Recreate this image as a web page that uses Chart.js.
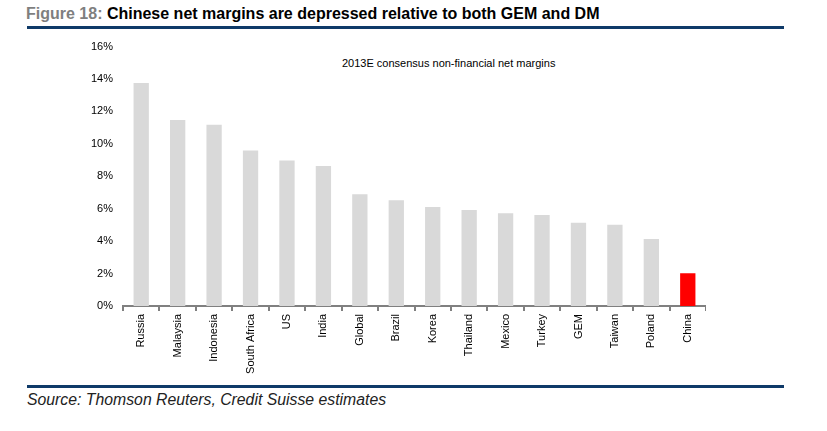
<!DOCTYPE html>
<html lang="en">
<head>
  <meta charset="UTF-8">
  <title>Chinese net margins</title>
  <script src="https://cdn.jsdelivr.net/npm/chart.js"></script>
  <style>
    body { margin: 0; width: 827px; height: 431px; background: #fff; position: relative; overflow: hidden; font-family: "Liberation Sans", Arial, sans-serif; }
    #title { position: absolute; left: 26px; top: 5px; font-size: 16px; font-weight: bold; color: #000; white-space: nowrap; }
    #title span { color: #7f7f7f; }
    .rule { position: absolute; left: 27px; width: 757px; height: 3px; background: #0f3a68; }
    #subtitle { position: absolute; left: 342px; top: 57px; font-size: 11px; color: #000; white-space: nowrap; }
    #source { position: absolute; left: 27px; top: 391px; font-size: 15.8px; font-style: italic; color: #222; white-space: nowrap; }
    #wrap { position: absolute; left: 80px; top: 30px; width: 626px; height: 346px; }
  </style>
</head>
<body>
  <div id="title"><span>Figure 18:</span> Chinese net margins are depressed relative to both GEM and DM</div>
  <div class="rule" style="top: 26px;"></div>
  <div id="subtitle">2013E consensus non-financial net margins</div>
  <div id="wrap"><canvas id="marginChart"></canvas></div>
  <div class="rule" style="top: 385px;"></div>
  <div id="source">Source: Thomson Reuters, Credit Suisse estimates</div>

  <script>
    // 2013E consensus net margins, in %
    const markets = ['Russia', 'Malaysia', 'Indonesia', 'South Africa', 'US', 'India', 'Global', 'Brazil',
                     'Korea', 'Thailand', 'Mexico', 'Turkey', 'GEM', 'Taiwan', 'Poland', 'China'];
    const margins = [13.76, 11.48, 11.18, 9.59, 8.98, 8.63, 6.90, 6.53,
                     6.11, 5.92, 5.72, 5.62, 5.13, 5.01, 4.13, 2.02];
    const yTicks = [0, 2, 4, 6, 8, 10, 12, 14, 16];

    const barColors = markets.map(m => m === 'China' ? '#ff0000' : '#d9d9d9');

    new Chart(document.getElementById('marginChart'), {
      type: 'bar',
      data: {
        labels: markets,
        datasets: [{
          data: margins,
          backgroundColor: barColors,
          borderWidth: 0,
          barPercentage: 0.42,
          categoryPercentage: 1
        }]
      },
      options: {
        responsive: true,
        maintainAspectRatio: false,
        animation: false,
        layout: { padding: { top: 15, right: 0, left: 0, bottom: 0 } },
        plugins: { legend: { display: false }, tooltip: { enabled: false } },
        scales: {
          x: {
            afterFit: s => { s.height = 70; },
            grid: { offset: true, drawOnChartArea: false, tickLength: 5, color: '#808080', lineWidth: 2 },
            border: { color: '#808080', width: 2 },
            ticks: { minRotation: 90, maxRotation: 90, padding: 3, color: '#000',
                     font: { family: 'Liberation Sans', size: 11 } }
          },
          y: {
            min: yTicks[0],
            max: yTicks[yTicks.length - 1],
            afterFit: s => { s.width = 43; },
            afterBuildTicks: s => { s.ticks = yTicks.map(v => ({ value: v })); },
            grid: { display: false, drawTicks: false },
            border: { display: false },
            ticks: { padding: 10, color: '#000', callback: v => v + '%',
                     font: { family: 'Liberation Sans', size: 11 } }
          }
        }
      }
    });
  </script>
</body>
</html>
